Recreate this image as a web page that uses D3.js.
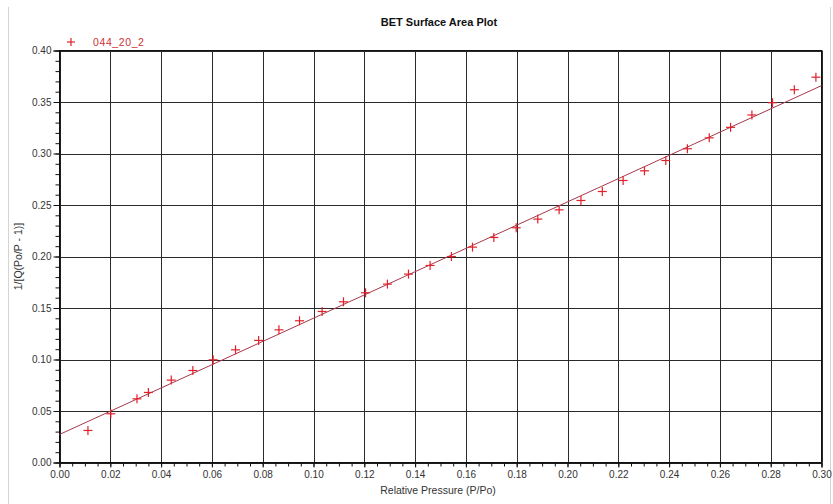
<!DOCTYPE html>
<html>
<head>
<meta charset="utf-8">
<script src="https://cdn.jsdelivr.net/npm/d3@7"></script>
<style>
  html, body { margin: 0; padding: 0; background: #fff; }
  svg { display: block; font-family: "Liberation Sans", Arial, sans-serif; }
</style>
</head>
<body>
<svg id="chart" width="833" height="504"></svg>
<script>
// BET transform of the adsorption isotherm, sample 044_20_2
const seriesName = "044_20_2";
const relPressure = [0.0112, 0.0202, 0.0305, 0.0350, 0.0440, 0.0525, 0.0605, 0.0693, 0.0784, 0.0864,
  0.0945, 0.1034, 0.1118, 0.1205, 0.1291, 0.1374, 0.1459, 0.1543, 0.1626, 0.1710,
  0.1798, 0.1883, 0.1967, 0.2053, 0.2137, 0.2219, 0.2303, 0.2387, 0.2472, 0.2558,
  0.2642, 0.2726, 0.2807, 0.2893, 0.2978];
const betValue = [0.0311, 0.0473, 0.0618, 0.0680, 0.0800, 0.0893, 0.0997, 0.1094, 0.1185, 0.1288,
  0.1376, 0.1466, 0.1560, 0.1648, 0.1732, 0.1829, 0.1913, 0.2000, 0.2091, 0.2185,
  0.2279, 0.2363, 0.2453, 0.2544, 0.2631, 0.2738, 0.2832, 0.2932, 0.3046, 0.3152,
  0.3254, 0.3374, 0.3493, 0.3619, 0.3741];
// least-squares line through the BET points
const fitIntercept = 0.0272;
const fitSlope = 1.129;
const xTicks = [0, 0.02, 0.04, 0.06, 0.08, 0.10, 0.12, 0.14, 0.16, 0.18, 0.20, 0.22, 0.24, 0.26, 0.28, 0.30];
const yTicks = [0, 0.05, 0.10, 0.15, 0.20, 0.25, 0.30, 0.35, 0.40];

const svg = d3.select("#chart");
const m = { left: 59.5, right: 821.5, top: 50.5, bottom: 462.5 };

const x = d3.scaleLinear().domain([0, 0.30]).range([m.left, m.right]);
const y = d3.scaleLinear().domain([0, 0.40]).range([m.bottom, m.top]);

// outer panel edges
svg.append("line").attr("x1", 8.5).attr("x2", 8.5).attr("y1", 7).attr("y2", 504)
  .attr("stroke", "#d4d4d4");
svg.append("line").attr("x1", 830.5).attr("x2", 830.5).attr("y1", 7).attr("y2", 504)
  .attr("stroke", "#d4d4d4");

// title
svg.append("text").attr("x", 439).attr("y", 26).attr("text-anchor", "middle")
  .attr("font-size", 11).attr("font-weight", "bold").attr("fill", "#111")
  .text("BET Surface Area Plot");

// grid
const grid = svg.append("g").attr("stroke", "#2a2a2a").attr("stroke-width", 1);
grid.selectAll("line.v").data(xTicks).join("line")
  .attr("x1", d => Math.round(x(d)) + 0.5).attr("x2", d => Math.round(x(d)) + 0.5)
  .attr("y1", m.top).attr("y2", m.bottom);
grid.selectAll("line.h").data(yTicks).join("line")
  .attr("y1", d => Math.round(y(d)) + 0.5).attr("y2", d => Math.round(y(d)) + 0.5)
  .attr("x1", m.left).attr("x2", m.right);

// plot frame
svg.append("rect").attr("x", m.left).attr("y", m.top)
  .attr("width", m.right - m.left).attr("height", m.bottom - m.top)
  .attr("fill", "none").attr("stroke", "#111");

// axes: major ticks with labels, minor ticks without
const fmt = d3.format(".2f");
const xAxis = svg.append("g").attr("transform", `translate(0,${m.bottom})`)
  .call(d3.axisBottom(x).tickValues(xTicks).tickFormat(fmt).tickSize(5).tickPadding(3));
svg.append("g").attr("transform", `translate(0,${m.bottom})`)
  .call(d3.axisBottom(x).tickValues(d3.range(0, 0.3001, 0.005)).tickFormat("").tickSize(4))
  .call(g => g.select(".domain").remove());
const yAxis = svg.append("g").attr("transform", `translate(${m.left},0)`)
  .call(d3.axisLeft(y).tickValues(yTicks).tickFormat(fmt).tickSize(6).tickPadding(2));
svg.append("g").attr("transform", `translate(${m.left},0)`)
  .call(d3.axisLeft(y).tickValues(d3.range(0, 0.4001, 0.01)).tickFormat("").tickSize(4))
  .call(g => g.select(".domain").remove());

svg.selectAll(".tick line").attr("stroke", "#111");
svg.selectAll(".domain").attr("stroke", "#111");
svg.selectAll(".tick text").attr("font-size", 10).attr("fill", "#333")
  .attr("font-family", "'Liberation Sans', Arial, sans-serif");

// axis titles
svg.append("text").attr("x", 438).attr("y", 494).attr("text-anchor", "middle")
  .attr("font-size", 10.5).attr("fill", "#333").text("Relative Pressure (P/Po)");
svg.append("text").attr("transform", `translate(22,${(m.top + m.bottom) / 2}) rotate(-90)`)
  .attr("text-anchor", "middle").attr("font-size", 10.5).attr("fill", "#333")
  .text("1/[Q(Po/P - 1)]");

// fitted line
const plot = svg.append("g");
plot.append("line")
  .attr("x1", x(0)).attr("y1", y(fitIntercept))
  .attr("x2", x(0.30)).attr("y2", y(fitIntercept + fitSlope * 0.30))
  .attr("stroke", "#a8384a").attr("stroke-width", 1);

// data markers
const red = "#e0202a";
const cross = (g, cx, cy, r) => {
  g.append("line").attr("x1", cx - r).attr("x2", cx + r).attr("y1", cy).attr("y2", cy);
  g.append("line").attr("x1", cx).attr("x2", cx).attr("y1", cy - r).attr("y2", cy + r);
};
const pts = plot.append("g").attr("stroke", red).attr("stroke-width", 1.2);
relPressure.forEach((p, i) => cross(pts, x(p), y(betValue[i]), 4.5));

// legend
const lg = svg.append("g").attr("stroke", red).attr("stroke-width", 1.2);
cross(lg, 71, 42, 4);
svg.append("text").attr("x", 93).attr("y", 46).attr("font-size", 10.5)
  .attr("fill", "#d03038").attr("letter-spacing", 0.6).text(seriesName);
</script>
</body>
</html>
